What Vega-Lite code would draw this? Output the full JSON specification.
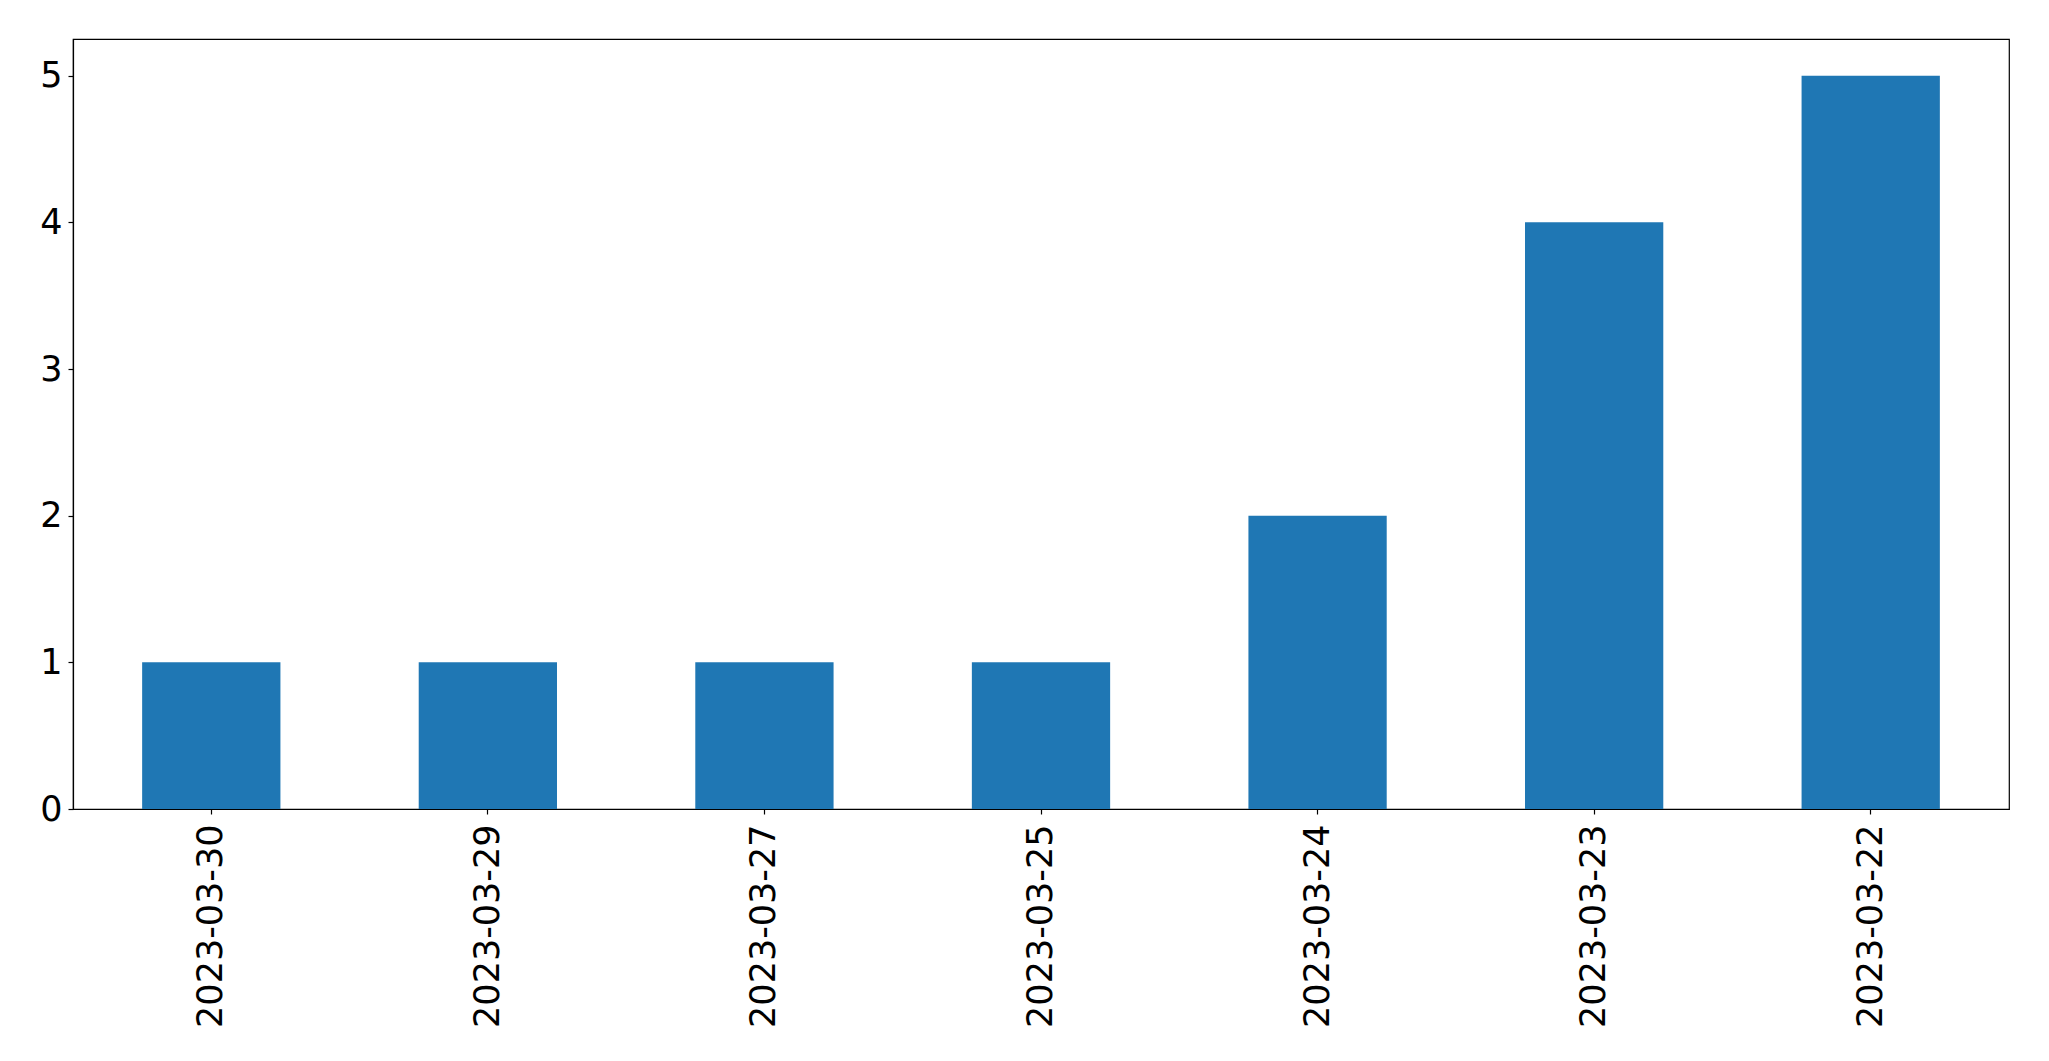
{
  "$schema": "https://vega.github.io/schema/vega-lite/v6.json",
  "width": 1936,
  "height": 770,
  "autosize": {"type": "none"},
  "padding": {"left": 73, "top": 39, "right": 40, "bottom": 252},
  "background": "white",
  "config": {
    "view": {"stroke": "black", "strokeWidth": 1.2},
    "font": "DejaVu Sans"
  },
  "data": {
    "values": [
      {"date": "2023-03-30", "count": 1},
      {"date": "2023-03-29", "count": 1},
      {"date": "2023-03-27", "count": 1},
      {"date": "2023-03-25", "count": 1},
      {"date": "2023-03-24", "count": 2},
      {"date": "2023-03-23", "count": 4},
      {"date": "2023-03-22", "count": 5}
    ]
  },
  "mark": {"type": "bar", "color": "#1f77b4"},
  "encoding": {
    "x": {
      "field": "date",
      "type": "nominal",
      "sort": null,
      "scale": {"paddingInner": 0.5, "paddingOuter": 0.25},
      "axis": {
        "title": null,
        "labelAngle": -90,
        "labelFontSize": 35,
        "labelLimit": 0,
        "labelColor": "black",
        "labelPadding": 10,
        "tickColor": "black",
        "tickSize": 5,
        "tickWidth": 1.2,
        "domainColor": "black",
        "domainWidth": 1.2,
        "grid": false
      }
    },
    "y": {
      "field": "count",
      "type": "quantitative",
      "scale": {"domain": [0, 5.25], "nice": false},
      "axis": {
        "title": null,
        "values": [0, 1, 2, 3, 4, 5],
        "labelFontSize": 35,
        "labelColor": "black",
        "labelPadding": 6,
        "tickColor": "black",
        "tickSize": 5,
        "tickWidth": 1.2,
        "domainColor": "black",
        "domainWidth": 1.2,
        "grid": false,
        "labelBaseline": "middle"
      }
    }
  }
}
